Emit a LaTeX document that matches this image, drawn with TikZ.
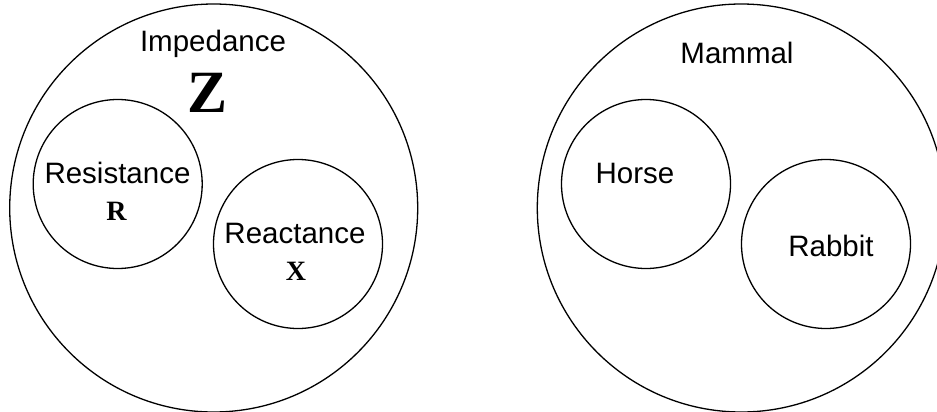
\documentclass[tikz,border=0pt]{standalone}
\usepackage{fontspec}
\setmainfont{Liberation Sans}
\newfontfamily\serifbold{Liberation Serif}[BoldFont={Liberation Serif Bold}]
\begin{document}
\begin{tikzpicture}[x=1pt,y=-1pt,
  ring/.style={draw,circle,line width=1.3pt,inner sep=0pt,minimum size=#1},
  lbl/.style={anchor=base,inner sep=0pt,font=\fontsize{29.5}{32}\selectfont},
  sym/.style={anchor=base,inner sep=0pt,font=\serifbold\bfseries\fontsize{#1}{#1}\selectfont}]
\useasboundingbox (0,0) rectangle (937,412);
\clip (0,0) rectangle (937,412);
% left group
\node[ring=408pt] (imp) at (213.7,208) {};
\node[ring=169pt] (res) at (117.7,184) {};
\node[ring=169pt] (rea) at (298,244) {};
\node[lbl] (impt) at (213,51.7) {Impedance};
\node[sym=60] (z) at (208,112.3) {Z};
\node[lbl] (rest) at (117.5,183.3) {Resistance};
\node[sym=28] (r) at (116.5,220) {R};
\node[lbl] (reat) at (295,243.3) {Reactance};
\node[sym=28] (x) at (296,280) {X};
% right group
\node[ring=408pt] (mam) at (741.3,208) {};
\node[ring=169pt] (hor) at (646,184) {};
\node[ring=169pt] (rab) at (826,244) {};
\node[lbl] (mamt) at (737,63.3) {Mammal};
\node[lbl] (hort) at (635,183.3) {Horse};
\node[lbl] (rabt) at (831,256) {Rabbit};
\end{tikzpicture}
\end{document}
